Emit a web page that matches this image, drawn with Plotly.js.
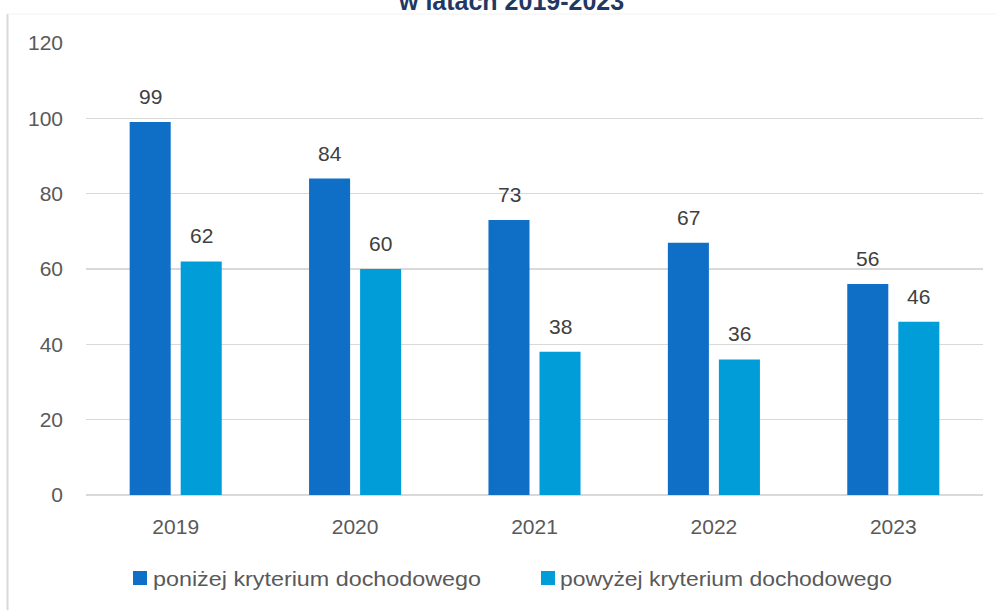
<!DOCTYPE html>
<html>
<head>
<meta charset="utf-8">
<script src="https://cdn.plot.ly/plotly-3.0.1.min.js"></script>
<style>html,body{margin:0;padding:0;background:#fff;}#chart{width:996px;height:610px;}</style>
</head>
<body>
<div id="chart"></div>
<script>
const years = ['2019', '2020', '2021', '2022', '2023'];
const below = [99, 84, 73, 67, 56];
const above = [62, 60, 38, 36, 46];
const seriesNames = ['poniżej kryterium dochodowego', 'powyżej kryterium dochodowego'];
const titleText = 'w latach 2019-2023';
const yTicks = [0, 20, 40, 60, 80, 100, 120];

const colors = ['#0F6FC6', '#009DD9'];
const tickFont = {family: 'Liberation Sans, Arial, sans-serif', size: 21, color: '#595959'};
const labelFont = {family: 'Liberation Sans, Arial, sans-serif', size: 21, color: '#404040'};
const legendFont = {family: 'Liberation Sans, Arial, sans-serif', size: 21, color: '#595959'};

// plot area geometry (px) used to place the hand-drawn legend
const W = 996, H = 610, ML = 86, MR = 13, MT = 43, MB = 115;
const PW = W - ML - MR, PH = H - MT - MB;
const px = v => (v - ML) / PW;
const py = v => (H - MB - v) / PH;

const traces = [below, above].map((vals, i) => ({
  type: 'bar', x: years, y: vals, name: seriesNames[i],
  marker: {color: colors[i]}, hoverinfo: 'skip', showlegend: false
}));

const annotations = [];
[below, above].forEach((vals, i) => {
  vals.forEach((v, j) => {
    annotations.push({
      x: j, y: v, xref: 'x', yref: 'y', text: String(v), showarrow: false,
      xshift: i === 0 ? -25.5 : 25.5, yanchor: 'bottom', yshift: 12, font: labelFont
    });
  });
});
annotations.push({
  x: px(511), y: py(1), xref: 'paper', yref: 'paper', text: '<b>' + titleText + '</b>',
  showarrow: false, yanchor: 'middle', xanchor: 'center',
  font: {family: 'Liberation Sans, Arial, sans-serif', size: 25, color: '#1F3864'}
});

// legend (drawn by hand so the entries can sit where the reference has them)
const legendSquareX = [133, 541];
const legendTextX = [151, 558];
const legendTextW = [328, 332];
const legendY = 578;
const shapes = [];
seriesNames.forEach((name, i) => {
  shapes.push({type: 'rect', xref: 'paper', yref: 'paper',
    x0: px(legendSquareX[i]), x1: px(legendSquareX[i] + 14),
    y0: py(legendY - 7), y1: py(legendY + 7),
    fillcolor: colors[i], line: {width: 0}});
  annotations.push({x: px(legendTextX[i]), y: py(legendY), xref: 'paper', yref: 'paper',
    text: name, showarrow: false, xanchor: 'left', yanchor: 'middle', align: 'left',
    font: legendFont});
});
shapes.push(
  {type: 'line', xref: 'paper', yref: 'paper', x0: px(7.5), x1: px(7.5), y0: py(14), y1: py(620),
   line: {color: '#D9D9D9', width: 2}},
  {type: 'line', xref: 'paper', yref: 'paper', x0: px(7.5), x1: px(1000), y0: py(14), y1: py(14),
   line: {color: '#F2F2F2', width: 1}}
);

const layout = {
  width: W, height: H,
  margin: {l: ML, r: MR, t: MT, b: MB},
  paper_bgcolor: '#ffffff', plot_bgcolor: '#ffffff',
  barmode: 'group', bargap: 0.431, bargroupgap: 0.196,
  showlegend: false,
  xaxis: {
    type: 'category', range: [-0.5, 4.5], showgrid: false, zeroline: false, showline: false,
    tickfont: tickFont, ticks: '', ticklabelstandoff: 17, fixedrange: true
  },
  yaxis: {
    range: [0, 120], tickvals: yTicks, showgrid: true, gridcolor: '#D9D9D9', gridwidth: 1.5,
    zeroline: true, zerolinecolor: '#D9D9D9', zerolinewidth: 1.5, showline: false,
    tickfont: tickFont, ticks: '', ticklabelstandoff: 22, fixedrange: true
  },
  annotations: annotations,
  shapes: shapes
};

Plotly.newPlot('chart', traces, layout, {displayModeBar: false, staticPlot: true}).then(() => {
  // squeeze/stretch legend labels to the width of the reference's legend font
  document.querySelectorAll('.annotation-text').forEach(t => {
    const i = seriesNames.indexOf(t.textContent);
    if (i >= 0) {
      t.setAttribute('textLength', legendTextW[i]);
      t.setAttribute('lengthAdjust', 'spacingAndGlyphs');
    }
  });
});
</script>
</body>
</html>
